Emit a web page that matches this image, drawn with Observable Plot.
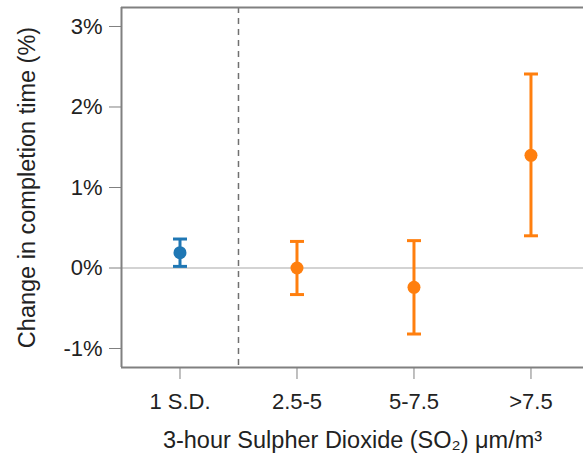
<!DOCTYPE html>
<html><head><meta charset="utf-8">
<script src="https://cdn.jsdelivr.net/npm/d3@7"></script>
<script src="https://cdn.jsdelivr.net/npm/@observablehq/plot@0.6"></script>
<style>
body{margin:0;background:#fff;overflow:hidden;font-family:"Liberation Sans",Arial,sans-serif}
</style>
</head><body><div id="chart"></div>
<script>
const categories = ["1 S.D.", "2.5-5", "5-7.5", ">7.5"];
const estimates = [0.19, 0.0, -0.24, 1.40];
const lower = [0.02, -0.33, -0.82, 0.40];
const upper = [0.36, 0.33, 0.34, 2.41];
const groups = ["sd", "bin", "bin", "bin"];
const yTicks = [-1, 0, 1, 2, 3];
const yDomain = [-1.236, 3.236];
const xDomain = [-0.5, 3.449];
const xLabel = "3-hour Sulpher Dioxide (SO\u2082) \u03bcm/m\u00b3";
const yLabel = "Change in completion time (%)";

const data = categories.map((c, i) => ({i, c, est: estimates[i], lo: lower[i], hi: upper[i], g: groups[i]}));
const colorOf = d => d.g === "sd" ? "#1f77b4" : "#ff7f0e";
const capSymbol = {draw(ctx, size) { const r = Math.sqrt(size / Math.PI); ctx.moveTo(-r, 0); ctx.lineTo(r, 0); }};
const frameColor = "#808080";

const chart = Plot.plot({
  width: 583, height: 472,
  marginLeft: 121, marginRight: 0, marginTop: 7, marginBottom: 105,
  style: {fontFamily: "'Liberation Sans', Arial, sans-serif", fontSize: "22px", color: "#222", background: "#fff"},
  x: {type: "linear", domain: xDomain, axis: null},
  y: {domain: yDomain, axis: null},
  marks: [
    Plot.ruleY([0], {stroke: "#d3d3d3", strokeWidth: 2}),
    Plot.ruleX([0.5], {stroke: "#707070", strokeWidth: 1.5, strokeDasharray: "6,5"}),
    Plot.ruleX([xDomain[0]], {stroke: frameColor, strokeWidth: 2}),
    Plot.ruleY([yDomain[0]], {stroke: frameColor, strokeWidth: 2}),
    Plot.ruleY([yDomain[1]], {stroke: frameColor, strokeWidth: 2}),
    Plot.axisY({ticks: yTicks, tickFormat: d => `${d}%`, tickSize: 12, tickPadding: 7, stroke: frameColor, fill: "#222", label: null, fontSize: 22}),
    Plot.axisY({ticks: [], label: yLabel, labelAnchor: "center", labelArrow: "none", labelOffset: 103, fontSize: 23.5}),
    Plot.axisX({ticks: [0, 1, 2, 3], tickFormat: i => categories[i], tickSize: 12, tickPadding: 14, stroke: frameColor, fill: "#222", label: null, fontSize: 22}),
    Plot.axisX({ticks: [], label: xLabel, labelAnchor: "center", labelArrow: "none", labelOffset: 80, fontSize: 23.5}),
    Plot.ruleX(data, {x: "i", y1: "lo", y2: "hi", stroke: colorOf, strokeWidth: 3}),
    Plot.dot(data, {x: "i", y: "lo", symbol: capSymbol, r: 7, stroke: colorOf, strokeWidth: 3, fill: "none"}),
    Plot.dot(data, {x: "i", y: "hi", symbol: capSymbol, r: 7, stroke: colorOf, strokeWidth: 3, fill: "none"}),
    Plot.dot(data, {x: "i", y: "est", r: 6.5, fill: colorOf, stroke: "none"})
  ]
});
document.getElementById("chart").append(chart);
</script>
</body></html>
